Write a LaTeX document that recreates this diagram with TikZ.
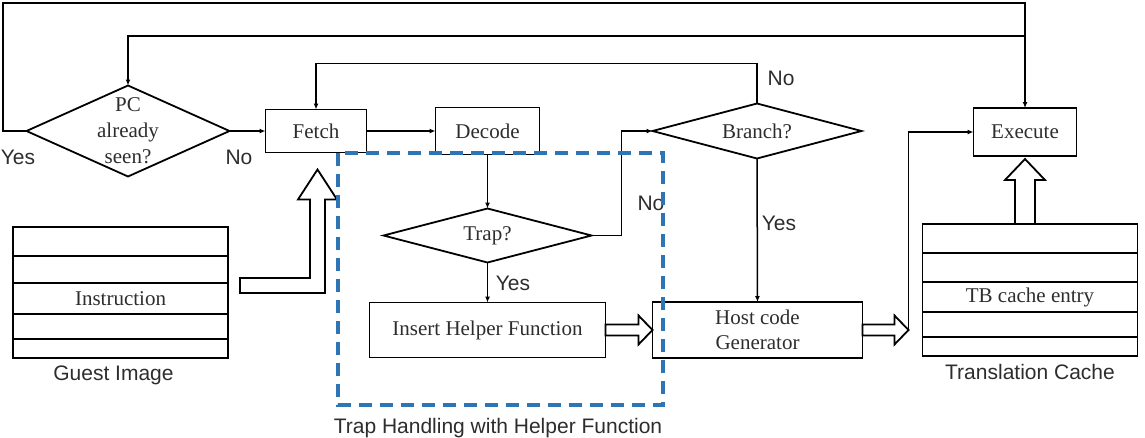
\documentclass[tikz,border=0pt]{standalone}
\usepackage{fontspec}
\setmainfont{Liberation Serif}
\setsansfont{Liberation Sans}
\usetikzlibrary{arrows.meta,positioning,calc,shapes.geometric}
\definecolor{trapblue}{RGB}{46,117,182}
\definecolor{inkgray}{RGB}{45,45,45}
\tikzstyle{box}=[
	rectangle,
	draw,
	line width=1.8pt,
	inner sep=0pt,
	outer sep=0pt,
	align=center,
	text=inkgray,
	font=\fontsize{21}{25}\selectfont
]
\tikzstyle{decision}=[
	diamond,
	draw,
	line width=1.8pt,
	inner sep=0pt,
	outer sep=0pt,
	aspect=3.8,
	text=inkgray,
	font=\fontsize{21}{25}\selectfont
]
\tikzstyle{row}=[
	rectangle,
	draw,
	line width=1.8pt,
	inner sep=0pt,
	outer sep=0pt,
	minimum width=215pt,
	text=inkgray,
	font=\fontsize{21}{24}\selectfont
]
\tikzstyle{flow}=[
	-{Latex[length=6pt,width=5pt]},
	line width=1.5pt
]
\tikzstyle{hollow}=[
	draw,
	line width=1.8pt,
	fill=white,
	line join=miter
]
\tikzstyle{note}=[
	inner sep=0pt,
	text=inkgray,
	font=\sffamily\fontsize{21}{24}\selectfont
]
\tikzstyle{zone}=[
	draw=trapblue,
	line width=3.5pt,
	dash pattern=on 13pt off 8pt
]
% open block arrow pointing right, from #1 to #2
\newcommand{\hollowarrow}[2]{
	\draw[hollow] ($(#1)+(0,-5.5)$) -- ($(#2)+(-14,-5.5)$) -- ($(#2)+(-14,-14.5)$)
		-- (#2) -- ($(#2)+(-14,14.5)$) -- ($(#2)+(-14,5.5)$) -- ($(#1)+(0,5.5)$) -- cycle;
}

\begin{document}
\begin{tikzpicture}[x=1pt,y=-1pt]
\useasboundingbox (0,0) rectangle (1145,437);

% main flow
\node [decision, minimum width=203pt, minimum height=91pt,
	label={[align=center, text=inkgray, font=\fontsize{21}{26}\selectfont]center:PC\\already\\seen?}] (pc) at (128,131) {};
\node [box, minimum width=101pt, minimum height=43pt] (fetch) [right=36pt of pc] {Fetch};
\node [box, minimum width=104pt, minimum height=47pt] (decode) [right=69pt of fetch] {Decode};
\node [decision, minimum width=209pt, minimum height=55pt] (branch) at (757,131) {Branch?};
\node [box, minimum width=103pt, minimum height=48pt] (exec) at (1025,132) {Execute};
\node [decision, minimum width=208pt, minimum height=54pt] (trap) [below=54pt of decode] {Trap?};
\node [box, minimum width=236pt, minimum height=55pt] (insert) [below=40pt of trap] {Insert Helper Function};
\node [box, minimum width=210pt, minimum height=56pt] (host) [right=47pt of insert] {Host code\\Generator};

% guest image
\node [row, minimum height=29pt] (gi1) at (120.5,241.5) {};
\node [row, minimum height=27pt] (gi2) [below=0pt of gi1] {};
\node [row, minimum height=31pt] (gi3) [below=0pt of gi2] {Instruction};
\node [row, minimum height=25pt] (gi4) [below=0pt of gi3] {};
\node [row, minimum height=19pt] (gi5) [below=0pt of gi4] {};
\node [note, xshift=-7pt] (guestlbl) [below=8pt of gi5] {Guest Image};

% translation cache
\node [row, minimum height=29pt] (tc1) at (1030,238.5) {};
\node [row, minimum height=29pt] (tc2) [below=0pt of tc1] {};
\node [row, minimum height=30pt] (tc3) [below=0pt of tc2] {TB cache entry};
\node [row, minimum height=25pt] (tc4) [below=0pt of tc3] {};
\node [row, minimum height=19pt] (tc5) [below=0pt of tc4] {};
\node [note] (tclbl) [below=8pt of tc5] {Translation Cache};

% yes / no
\node [note] (pcyes) at (18,157) {Yes};
\node [note] (pcno) at (239,157) {No};
\node [note] (brno) at (781,78) {No};
\node [note] (bryes) at (779,223) {Yes};
\node [note] (trapno) at (651,203) {No};
\node [note] (trapyes) at (513,283) {Yes};

% connectors
\coordinate (loopA) at (3,3);
\coordinate (loopB) at ($(exec.north)+(0,-72)$);
\draw [flow] (pc.west) -| (loopA) -| (exec.north);
\draw [flow] (loopB) -| (pc.north);
\draw [flow] (pc.east) -- (fetch.west);
\draw [flow] (fetch.east) -- (decode.west);
\draw [flow] (decode.south) -- (trap.north);
\draw [flow] (trap.east) -- ++(30,0) |- (branch.west);
\draw [flow] (trap.south) -- (insert.north);
\draw [flow] (branch.south) -- (host.north);
\draw [flow] (branch.north) -- ++(0,-40) -| (fetch.north);

\hollowarrow{insert.east}{host.west}
\coordinate (tcin) at ($(host.east)+(46,0)$);
\hollowarrow{host.east}{tcin}
\draw [flow] (tcin) |- (exec.west);

% cache -> execute
\coordinate (upbase) at (tc1.north -| exec.south);
\draw [hollow] ($(upbase)+(-10,0)$) -- ($(exec.south)+(-10,24)$) -- ($(exec.south)+(-20,24)$)
	-- ($(exec.south)+(0,3)$) -- ($(exec.south)+(20,24)$) -- ($(exec.south)+(10,24)$) -- ($(upbase)+(10,0)$) -- cycle;

% guest image -> fetch
\coordinate (gtip) at ($(fetch.south)+(1.5,17)$);
\coordinate (gtail) at ($(gi3.north east)+(12,2.5)$);
\draw [hollow] (gtip) -- ++(19.5,30) -- ++(-12,0) |- ($(gtail)+(0,7.5)$)
	-- ($(gtail)+(0,-7.5)$) -| ($(gtip)+(-7.5,30)$) -- ++(-12,0) -- cycle;

% trap handling region
\draw [zone] (338,153) rectangle (663,405);
\node [note, anchor=base] (zonelbl) at (498,433) {Trap Handling with Helper Function};
\end{tikzpicture}
\end{document}
